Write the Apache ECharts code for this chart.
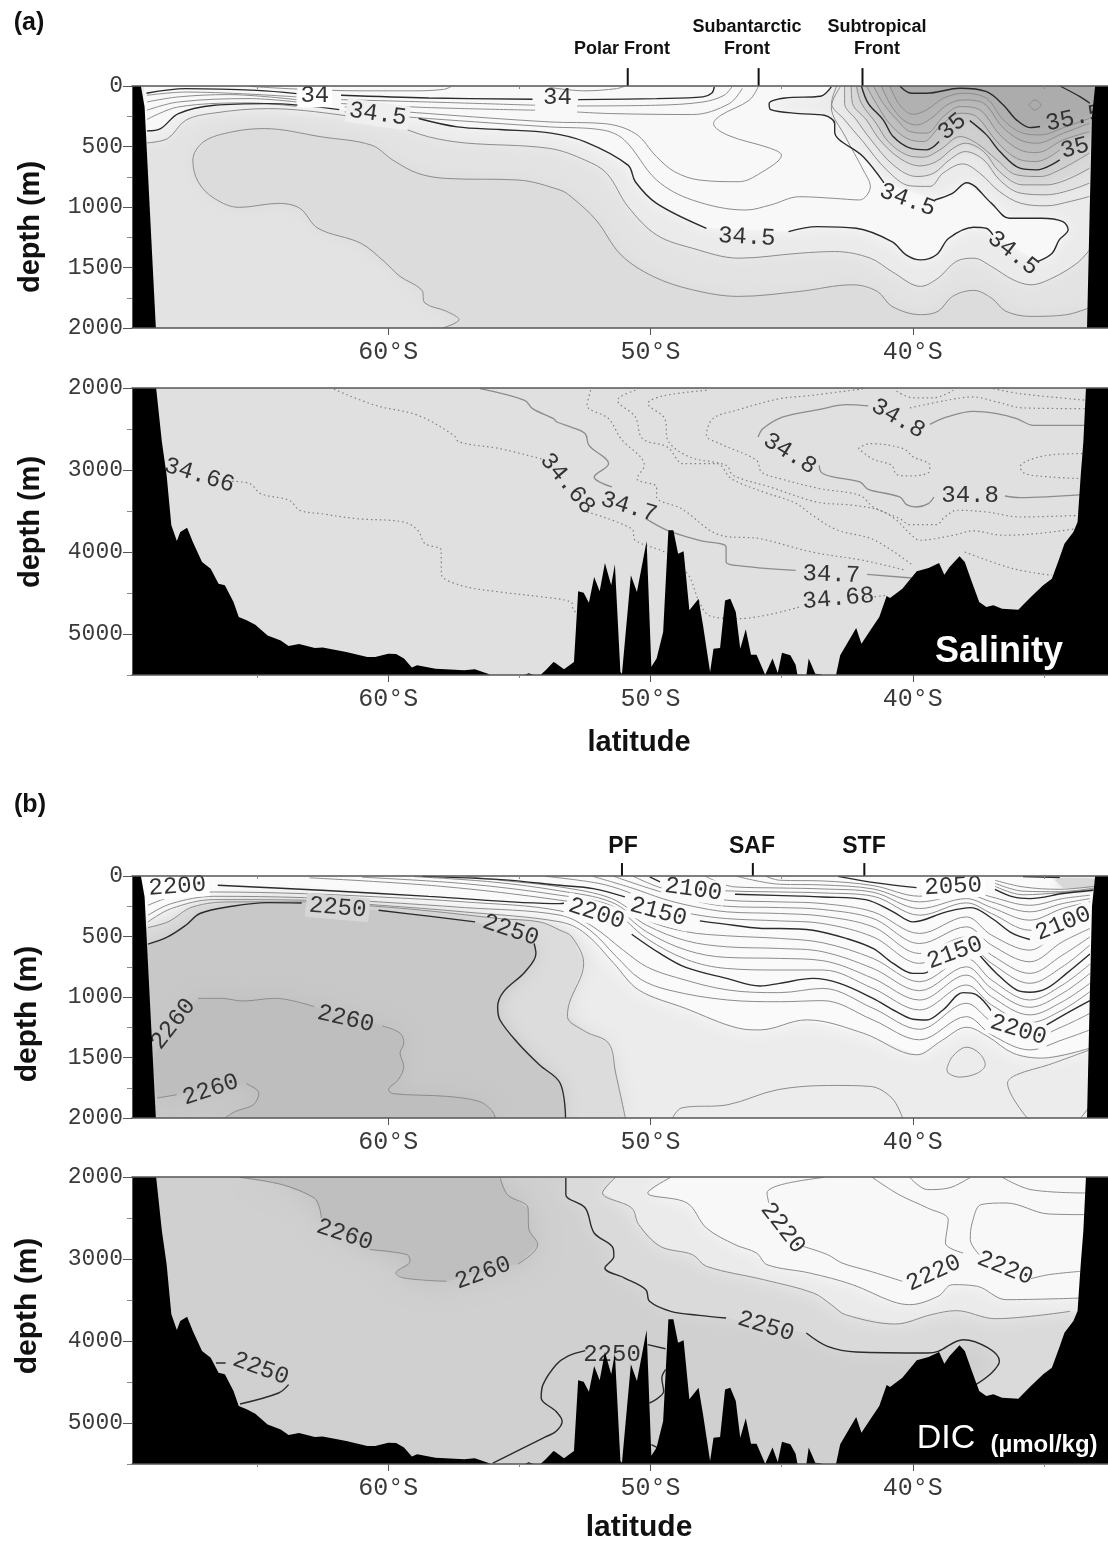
<!DOCTYPE html>
<html><head><meta charset="utf-8">
<style>html,body{margin:0;padding:0;background:#fff}#c{width:1108px;height:1542px}</style>
<script src="https://cdn.jsdelivr.net/npm/echarts@6/dist/echarts.min.js"></script>
</head><body><div id="c"></div>
<script>
// ---------- axis values ----------
const latMin = 32.56, latMax = 69.77;
const latLabels = [60, 50, 40];
const latMinor = [65, 55, 45, 35];
const upperMajor = [0, 500, 1000, 1500, 2000];
const upperMinor = [250, 750, 1250, 1750];
const lowerMajor = [2000, 3000, 4000, 5000];
const lowerMinor = [2500, 3500, 4500, 5500];

// ---------- sea floor (lat S, depth m) ----------
const wallLeft = [[69.77,0],[69.43,0],[69.29,173],[68.86,2000],[69.77,2000]];
const wallRight = [[33.05,0],[33.17,250],[33.26,1050],[33.36,2000],[32.56,2000],[32.56,0]];
const seafloor = [[69.77,2000],[68.85,2000],[68.63,2660],[68.45,3065],[68.27,3675],[68.06,3866],[67.93,3756],[67.67,3703],[67.45,3878],[67.1,4122],[66.77,4203],[66.47,4386],[66.23,4407],[65.9,4610],[65.7,4793],[65.4,4833],[65.07,4886],[64.6,5017],[64.1,5078],[63.8,5146],[63.4,5122],[62.8,5170],[62.5,5166],[61.6,5219],[60.8,5280],[60.5,5280],[60,5240],[59.7,5244],[59.4,5300],[59.1,5410],[58.9,5382],[58.2,5423],[57.1,5443],[56.7,5431],[56.2,5484],[56.1,5500],[54.8,5500],[54.65,5480],[54.45,5500],[54.2,5500],[54,5443],[53.7,5340],[53.64,5350],[53.3,5430],[52.92,5340],[52.76,4480],[52.55,4496],[52.35,4618],[52.15,4305],[51.94,4480],[51.74,4134],[51.5,4407],[51.36,4150],[51.15,5463],[51.09,5484],[50.75,4285],[50.52,4488],[50.15,3866],[49.97,5400],[49.77,5300],[49.52,4975],[49.32,3736],[49.13,3736],[48.95,4020],[48.74,3992],[48.52,4711],[48.17,4569],[48,4894],[47.73,5463],[47.6,5179],[47.35,5171],[47.16,4590],[46.96,4569],[46.75,4732],[46.58,5179],[46.37,4943],[46.17,5252],[45.96,5252],[45.63,5496],[45.35,5300],[45.15,5476],[44.99,5228],[44.67,5260],[44.47,5374],[44.4,5496],[44.06,5500],[43.97,5300],[43.72,5484],[43.52,5490],[43.45,5500],[42.93,5500],[42.77,5260],[42.16,4927],[41.96,5118],[41.62,4955],[41.28,4793],[41,4537],[40.87,4561],[40.4,4447],[39.85,4236],[39.4,4195],[39,4134],[38.8,4277],[38.6,4183],[38.22,4053],[38.02,4122],[37.75,4366],[37.47,4610],[37.2,4671],[36.93,4650],[36.6,4691],[35.98,4703],[35.5,4549],[35.03,4407],[34.7,4325],[34.42,4081],[34.22,3898],[33.88,3756],[33.72,3634],[33.6,3065],[33.5,2659],[33.4,2000],[32.56,2000],[32.56,5500],[69.77,5500]];

// ---------- (a) salinity, 0-2000 m ----------
const sal34a = [[69.22,60],[67.72,22],[65,36],[63.5,63]];
const sal34b = [[61.8,77],[58.46,99],[54.5,110]];
const sal34c = [[52.76,113],[49.77,104],[48,90],[47.66,58],[47.57,8]];
const sal345a = [[69.2,371],[68.68,352],[68,228],[66.63,159],[64.6,146],[61.87,195]];
const sal345b = [[58.84,269],[57.37,338],[55.74,360],[53.85,387],[52.49,461],[50.86,654],[50.58,791],[49.77,970],[47.87,1176]];
const sal345c = [[44.74,1203],[43.65,1162],[42.16,1176],[40.8,1286],[40.26,1395],[39.71,1437],[39.1,1395],[38.63,1258],[37.68,1167],[37.2,1176],[36.95,1230]];
const sal345d = [[35.23,1450],[34.69,1382],[34.42,1272],[34.08,1189],[34.28,1121],[35.1,1093],[36.32,1093],[37,970],[37.95,799],[38.49,887],[39.17,942]];
const sal345e = [[41.1,800],[41.89,585],[42.98,379],[42.98,310],[43.38,242],[44.33,228],[45.42,195],[45.48,146],[44.87,99],[43.52,85],[43.11,8]];
const sal35a = [[41.96,0],[41.7,143],[41.13,280],[40.75,418],[40.1,514],[39.48,528],[39,459]];
const sal35b = [[37.83,286],[37.19,404],[36.68,542],[35.92,679],[35.28,693],[34.4,610]];
const sal355a = [[40.5,0],[40.05,60],[39.48,60],[38.2,19],[37.19,47],[36.55,157],[36.05,280],[35.53,344],[35.15,335]];
const sal355b = [[34.39,0],[33.63,88],[33.25,143]];
const salTopA = [[65.3,3],[63.5,25],[61,40],[59,40],[57.9,28],[57.6,5]];
const salTopB = [[53.85,12],[52.5,40],[51.3,22],[51,3]];
const sal341a = [[69.2,77],[67.7,50],[63.5,90]];
const sal341b = [[61.8,113],[58.5,132],[54.4,159]];
const sal341c = [[52.8,165],[49.8,159],[48,132],[47.2,77],[46.9,8]];
const sal342a = [[69.2,132],[68,90],[66.1,71],[63.5,113]];
const sal342b = [[61.8,145],[58.5,178],[54.4,200]];
const sal342c = [[52.8,215],[51.5,228],[48.4,236],[47,146],[46.5,20]];
const sal343a = [[69.2,200],[68,132],[65.27,104],[63.5,132]];
const sal343b = [[61.66,173],[58.46,228],[53.85,297],[51.8,310],[50.58,393],[49.77,585],[49.08,709],[48.14,777],[46.64,791],[45.83,722],[45.01,571],[45.42,516],[47.05,407],[47.6,310],[47.32,242],[46.24,118],[45.9,8]];
const sal344a = [[69.2,277],[68,173],[65.27,140],[63.5,168]];
const sal344b = [[61.66,214],[58.46,269],[53.85,338],[51.8,365],[50.99,448],[49.77,777],[48.41,942],[46.37,1025],[45.42,983],[44.33,915],[42.98,929],[42.03,942],[41.62,832],[41.89,695],[42.57,420],[43.11,173],[42.77,8]];
const sal346 = [[69.2,470],[68.41,434],[67.72,283],[66.63,223],[64.6,187],[61.73,242],[59.82,324],[58.46,420],[57.1,470],[53.85,516],[52.49,613],[51.67,722],[50.86,997],[49.77,1231],[48.4,1341],[46.64,1423],[44.33,1382],[42.98,1368],[41.62,1423],[40.8,1533],[39.71,1656],[39.04,1588],[38.35,1450],[37.68,1423],[37,1492],[36.18,1601],[35.5,1643],[34.69,1588],[33.74,1464],[33.26,1354]];
const sal347 = [[57.92,2000],[57.3,1931],[57.78,1862],[58.6,1794],[58.73,1684],[59.55,1574],[60.16,1450],[61.05,1299],[62.68,1176],[63.37,1011],[64.18,970],[65.68,1003],[66.63,929],[67.25,791],[67.45,613],[67.04,461],[65.95,379],[64.73,352],[62.55,420],[60.64,489],[59.82,613],[58.87,722],[57.78,764],[55.05,777],[53.45,860],[53.03,915],[52.08,1107],[51.13,1395],[49.9,1574],[48.41,1684],[46.64,1739],[44.33,1698],[42.3,1643],[41.35,1698],[40.8,1821],[39.71,1890],[39.04,1862],[38.49,1739],[37.68,1689],[37,1753],[36.45,1862],[35.5,1904],[34.14,1890],[33.3,1835]];
const salLa = [[42.9,0],[43.1,143],[42.6,280],[41.9,460],[41,693],[40.1,825],[39.35,830],[38.85,720],[38.1,644],[37.45,720],[36.7,872],[35.9,968],[34.9,990],[34,954],[33.27,913]];
const salLb = [[42.6,0],[42.6,143],[42.15,280],[41.64,432],[40.75,652],[39.85,748],[39.2,720],[38.6,610],[38,542],[37.3,610],[36.7,775],[35.9,885],[34.9,899],[33.27,803]];
const salLc = [[42.35,0],[42.3,143],[41.77,280],[41.26,445],[40.5,597],[39.73,660],[39.1,624],[38.46,514],[38,473],[37.3,542],[36.7,707],[35.8,817],[34.9,817],[33.27,680]];
const salLd = [[42.15,0],[41.96,143],[41.4,308],[40.94,459],[40.24,569],[39.6,588],[38.97,528],[38.2,418],[37.57,473],[36.8,610],[36.05,734],[35.15,748],[34.4,693],[33.27,555]];
const salUa = [[41.77,0],[41.4,143],[40.9,308],[40.24,432],[39.6,459],[38.97,335],[38.2,225],[37.57,253],[36.8,459],[36.05,597],[35.28,624],[34.4,528]];
const salUb = [[41.5,0],[41.13,143],[40.6,280],[40.1,377],[39.48,390],[38.84,253],[38.2,170],[37.44,198],[36.68,404],[35.92,528],[35.28,550],[34.26,445],[33.27,377]];
const salUc = [[41.2,0],[40.88,143],[40.37,280],[39.86,322],[39.3,267],[38.7,157],[38.08,115],[37.3,143],[36.6,335],[35.92,445],[35.28,473],[34.26,390],[33.27,308]];
const salUd = [[40.88,0],[40.5,157],[39.99,234],[39.48,198],[38.84,102],[38.08,60],[37.19,102],[36.55,280],[35.8,390],[35.15,404],[34.14,335],[33.27,267]];
const salLoop = [[35.58,157],[35.35,115],[35.12,157],[35.35,199],[35.58,157]];

// ---------- (a) salinity, 2000-5500 m ----------
const deep34p7a = [[56.5,2008],[54.8,2150],[54.5,2252],[53.7,2374],[53.57,2415],[53.03,2476],[52.49,2557],[52.35,2699],[51.6,2923],[52.15,3085],[51.47,3207]];
const deep34p7b = [[50.18,3593],[49.36,3736],[48.14,3858],[47.12,3939],[47.12,4122],[46.5,4171],[44.47,4224]];
const deep34p7c = [[41.75,4272],[40.05,4317]];
const deep34p8a = [[45.9,2597],[45.71,2495],[44.95,2353],[43.55,2260],[42.53,2203],[41.7,2219]];
const deep34p8b = [[39.35,2443],[38.7,2353],[37.7,2284],[36.8,2312],[36.04,2373],[35.4,2455],[33.37,2455]];
const deep34p8c = [[43.57,2943],[43.48,3032],[43.04,3085],[42.02,3146],[41.7,3235],[40.5,3329],[40.24,3422],[39.86,3451],[39.41,3410],[39.2,3329]];
const deep34p8d = [[36.49,3317],[35.91,3337],[33.56,3300]];
const dot1 = [[42.08,2739],[41.64,2678],[40.37,2739],[39.98,2841],[39.35,2943],[39.41,3032],[40.11,3073],[40.62,3056],[40.81,2943],[41.51,2869],[42.08,2739]];
const dot2 = [[33.37,2800],[34.64,2812],[35.6,2882],[35.91,2963],[35.72,3044],[34.77,3085],[33.56,3105]];
const dot3 = [[40.62,2040],[39.98,2121],[39.22,2121],[38.46,2028]];
const dot4 = [[40.11,2243],[38.71,2150],[37.7,2109],[36.8,2170],[35.79,2243],[33.37,2252]];
const dot5 = [[36.93,2008],[35.91,2069],[33.37,2150]];
const dot6 = [[41.9,2010],[44.06,2097],[45.07,2130],[46.73,2272],[47.62,2373],[47.87,2577],[47.36,2678],[45.96,2882],[45.77,3024],[45.07,3105],[43.55,3227],[42.02,3309],[41.51,3451],[40.5,3593],[40.11,3666],[39.1,3666],[38.78,3573],[38.33,3491],[37.19,3512],[35.91,3573],[33.62,3553]];
const dot7 = [[47.87,2028],[49.53,2097],[50.1,2190],[49.46,2373],[49.34,2638],[48.51,2841],[47.11,2943],[46.85,3065],[45.45,3207],[43.67,3390],[42.27,3430],[41.26,3491],[40.62,3613],[40.11,3776],[39.73,3857],[38.46,3796],[37.7,3743],[36.55,3796],[35.28,3776],[33.75,3715]];
const dot8 = [[50.58,2028],[51.26,2150],[50.58,2354],[50.31,2618],[49.36,2720],[48.75,2923],[47.46,2923],[46.92,3106],[45.7,3268],[44.5,3400],[43.79,3560],[42.9,3730],[41.5,3850],[40,4163]];
const dot8b = [[38.02,4000],[36.18,4203],[34.69,4285]];
const dot9 = [[52.28,2028],[52.42,2211],[51.6,2374],[51.13,2618],[50.24,2943],[50.52,3106],[49.77,3207],[49.77,3329],[48.82,3472],[47.32,3797],[45.83,3838],[43.86,4000],[41.89,4102],[40.26,4224]];
const dot34p68a = [[62.07,2016],[60.5,2211],[58.87,2333],[57.5,2577],[57.3,2659],[55.74,2740],[54.1,2870]];
const dot34p68b = [[52.42,3512],[50.72,3716],[50.58,3858],[49.36,4020],[48.55,4285],[48.14,4610],[47.73,4780],[46.64,4813],[44.33,4671]];
const dot34p68c = [[41.8,4560],[41,4528]];
const dot34p66 = [[65.95,3138],[65.27,3167],[64.86,3289],[63.77,3370],[63.37,3492],[62.55,3533],[61.19,3594],[59.41,3634],[58.87,3736],[58.6,3898],[57.98,3980],[57.98,4264],[57.23,4407],[55.74,4488],[54.1,4549],[53.03,4610],[52.96,4691],[52.76,4772]];

// ---------- (b) DIC, 0-2000 m ----------
const stackLats = [45.08,43.43,41.52,39.74,37.96,37,35.54,34.3,33.25];
const dic2060 = [35,41,79,167,118,173,242,187,159];
const dic2070 = [68,74,107,214,151,214,296,228,187];
const dic2080 = [99,107,134,269,187,261,365,269,214];
const dic2090 = [132,140,167,324,222,310,448,338,250];
const dic2110 = [214,228,296,475,338,489,613,434,379];
const dic2120 = [261,277,351,558,420,571,709,544,434];
const dic2130 = [310,332,420,640,503,654,805,654,503];
const dic2140 = [371,393,503,722,563,722,887,750,571];
const dic2160 = [516,552,681,874,681,860,1025,901,728];
const dic2170 = [599,626,764,948,750,929,1085,970,805];
const dic2180 = [681,700,846,1025,819,997,1148,1039,887];
const dic2190 = [777,777,929,1107,901,1066,1212,1107,956];
const dic2210 = [964,929,1093,1267,1052,1203,1341,1245,1135];
const dic2220 = [1039,1030,1190,1354,1162,1313,1437,1354,1272];
const head2060 = [[45.6,3]];
const head2070 = [[46.7,3]];
const head2080 = [[47.9,3],[46.8,90]];
const head2090 = [[49.1,3],[47.5,110],[46.8,125]];
const head2110 = [[50.66,3],[49.64,95],[48.5,150],[47.1,200]];
const head2120 = [[51.4,3],[50,105],[48.63,190],[47.1,250]];
const head2130 = [[52.2,3],[50.7,100],[49.5,190],[48.4,250],[47.1,296]];
const head2140 = [[54,3],[52,60],[50.9,130],[49.5,260],[48.4,315],[47.1,352]];
const head2160 = [[57,5],[55.5,40],[53.46,90],[51.5,185],[50.15,365],[48.63,461],[47.1,494]];
const head2170 = [[59,5],[56,50],[53.46,123],[51.5,215],[50.15,407],[48.63,536],[47.1,585]];
const head2180 = [[61,10],[57,65],[53.46,159],[51.5,245],[50.15,461],[48.63,613],[47.1,673]];
const head2190 = [[63,15],[58,85],[53.46,200],[51.5,285],[50.15,516],[48.63,690],[47.1,764]];
const head2210 = [[69.16,242],[68.27,173],[66.63,132],[63.2,146],[60.37,173],[57.1,214],[53.45,288],[52.19,420],[51.04,613],[50.15,750],[49,840],[47.05,942]];
const head2220 = [[69.16,324],[68.27,228],[66.63,168],[63.2,179],[60.37,214],[57.1,261],[53.45,324],[52.31,448],[51.3,667],[50.4,850],[49.26,945],[47.05,1025]];
const dic2230 = [[69.16,379],[68.27,269],[66.63,195],[63.2,200],[60.37,241],[57.1,297],[53.45,379],[52.49,475],[51.4,722],[50.45,942],[48.68,1093],[46.64,1258],[45.83,1272],[44.06,1189],[41.89,1299],[39.85,1478],[38.9,1360],[37.95,1250],[37.14,1327],[36.18,1464],[35.1,1505],[33.26,1423]];
const dic2240 = [[69.16,426],[68.4,379],[67.45,255],[65.95,214],[63.2,214],[60.5,250],[58.46,288],[55.74,352],[54.24,379],[53.45,448],[53,503],[52.55,722],[53.1,1052],[53.17,1162],[52.49,1285],[51.6,1382],[51.33,1629],[50.96,2000]];
const dic2050a = [[42.85,3],[41.39,57],[39.86,96]];
const dic2050b = [[36.87,110],[36.17,173],[35.54,187],[34.27,145],[33.12,118]];
const dic2050top = [[35.8,5],[34.4,12]];
const dicTop1 = [[36.87,35],[35.8,90],[34.4,110],[33.1,85]];
const dicTop2 = [[36.87,60],[35.8,125],[34.4,130],[33.1,100]];
const dicTop3 = [[36.87,85],[35.8,155],[34.4,138],[33.1,110]];
const dicCornerShade = [[34.6,30],[34.27,100],[33.12,100],[33,20],[34.3,15]];
const dic2100a = [[50.03,8],[49.64,49]];
const dic2100b = [[46.78,151],[44.3,166],[43.43,173],[41.8,195],[40.75,296],[39.99,379],[38.72,296],[37.78,261],[36.98,351],[36.2,475],[35.54,525]];
const dic2150a = [[58.7,3],[55.7,30],[53.45,77],[52.19,104],[50.98,173]];
const dic2150b = [[48.12,371],[46.84,407],[45.57,434],[45.08,434],[43.81,448],[42.54,516],[41.52,599],[40.75,722],[39.99,805],[39.61,805],[39.1,736]];
const dic2150c = [[37.51,640],[36.81,805],[36.05,942],[35.54,961],[34.9,929],[34.14,805],[33.25,645]];
const dic2200a = [[66.5,77],[62.55,118],[58.46,168],[53.45,228],[53.3,225]];
const dic2200b = [[50.72,481],[49.64,640],[48.63,758],[47.1,846],[45.83,909],[45.08,887],[43.81,846],[42.79,887],[41.52,1011],[40.63,1121],[39.99,1184],[39.48,1190],[38.85,1107],[38.08,964],[37.57,983],[36.94,1135]];
const dic2200c = [[34.9,1231],[34.14,1135],[33.25,1030]];
const dic2250a = [[69.16,563],[68.41,503],[67.72,407],[67.18,310],[65.95,250],[64.6,220],[63.3,223]];
const dic2250b = [[60.37,283],[58.46,332],[56.69,379]];
const dic2250c = [[54.44,558],[54.37,640],[54.78,791],[55.6,956],[55.83,1080],[55.74,1190],[55.05,1382],[54.24,1560],[53.45,1711],[53.24,2000]];
const dic2260a = [[67.25,1011],[66.36,1011],[65.55,1033],[64.32,1011],[62.82,1080]];
const dic2260b = [[60.23,1239],[59.55,1299],[59.41,1382],[59.55,1464],[59.41,1574],[59.62,1684],[59.99,1766],[59.82,1799],[57.78,1821],[56.55,1862],[56.08,1931],[55.91,2000]];
const dic2260c = [[68.81,1835],[68.07,1808]];
const dic2260d = [[65.41,1717],[64.93,1794],[65.14,1890],[65.82,1945],[66.23,2000]];
const dicArc = [[49.16,2000],[48.82,1917],[47.05,1890],[45.15,1766],[42.98,1731],[41.62,1739],[40.8,1835],[40.39,2000]];
const dicBlob = [[38.7,1588],[38.49,1492],[37.95,1415],[37.47,1464],[37.24,1560],[37.54,1629],[38.22,1662],[38.65,1629],[38.7,1588]];
const dicRight = [[35.64,2000],[36.39,1711],[36.05,1643],[34.82,1560],[33.26,1437]];
const dicCorner = [[33.6,2000],[33.3,1917]];

// ---------- (b) DIC, 2000-5500 m ----------
const d2250a = [[53.23,2012],[53.23,2215],[52.49,2378],[52.15,2683],[51.43,2866],[51.4,2967],[51.74,3110],[50.99,3232],[50.18,3374],[50.04,3516],[49.23,3638],[48.14,3687],[47.12,3719]];
const d2250b = [[44.06,3902],[43.25,4065],[42.16,4134],[39.44,4146],[39.04,4126],[38.08,3984],[37.13,4085],[36.7,4248],[37,4390],[37.6,4532]];
const d2250c = [[65.65,4768],[64.18,4634],[63.8,4532]];
const d2250d = [[66.57,4268],[66.2,4268]];
const d2250e = [[56.01,5488],[54.1,5183],[53.6,5100],[53.37,4980],[53.6,4860],[54.17,4695],[54.1,4532],[53.6,4290],[53.17,4187],[52.49,4118]];
const d2250f = [[50.11,4045],[49.43,4094]];
const d2250g = [[49.43,4350],[49.57,4451],[49.5,4614],[50.04,4756]];
const d2250h = [[49.97,5264],[49.7,5305]];
const d2260a = [[65.68,2004],[64.05,2093],[62.82,2256],[62.62,2378],[62.55,2500]];
const d2260b = [[60.71,2886],[59.28,2947],[59.17,3028],[59.71,3171],[59.41,3232],[57.78,3272]];
const d2260c = [[55.05,3061],[54.3,2825],[54.65,2622],[54.67,2378],[55.46,2215],[55.73,2012]];
const d2240 = [[51.33,2004],[51.83,2195],[50.72,2378],[50.45,2581],[49.63,2846],[48.4,2947],[47.87,3089],[45.69,3252],[43.79,3415],[43.11,3557],[42.57,3679],[40.66,3793],[39.3,3679],[38.35,3630],[36.86,3728],[34,3638]];
const d2230 = [[49.23,2004],[50.11,2195],[48.61,2317],[47.87,2622],[46.78,2825],[45.96,2927],[45.56,3069],[43.93,3171],[42.3,3313],[40.8,3516],[40.12,3557],[39.04,3455],[38.49,3313],[37.54,3333],[36.45,3496],[33.6,3476]];
const d2220a = [[43.38,2004],[45.01,2093],[45.56,2195],[45.49,2317]];
const d2220b = [[44.2,2845],[43.25,2947],[42.7,3049],[41.62,3150],[40.4,3272]];
const d2220c = [[38.08,2927],[38.76,2805],[38.65,2520],[39.44,2378],[40.53,2215],[41.55,2004]];
const d2210a = [[40.12,2004],[39.44,2154],[38.63,2134],[37.81,2004]];
const d2210b = [[36.59,2004],[35.5,2154],[33.4,2195]];
const d2220d = [[33.4,2459],[34.82,2451],[36.45,2317],[37.4,2337],[37.74,2561],[37.81,2764],[37.47,2947]];
const d2220e = [[35.5,3240],[34.82,3191],[33.6,3150]];

// ---------- contour labels [lat, depth, text, rotation deg, background] ----------
const labelsA = [[62.8,77,'34',0,'#fff'],[53.55,100,'34',0,''],[60.4,233,'34.5',-8,'#efefef'],[46.33,1250,'34.5',-3,''],[40.2,942,'34.5',-20,''],[36.18,1382,'34.5',-38,''],[38.5,335,'35',40,''],[33.85,267,'35.5',12,''],[33.82,514,'35',15,'']];
const labelsB = [[67.2,3065,'34.66',-17,''],[53.17,3167,'34.68',-50,''],[42.84,4569,'34.68',5,''],[50.83,3451,'34.7',-17,''],[43.11,4276,'34.7',-2,''],[40.56,2373,'34.8',-30,''],[44.69,2800,'34.8',-32,''],[37.82,3308,'34.8',0,'']];
const labelsC = [[68.04,85,'2200',4,'#fff'],[61.93,261,'2250',-5,'#d6d6d6'],[55.33,448,'2250',-18,''],[68.2,1222,'2260',52,''],[61.62,1181,'2260',-13,''],[66.77,1766,'2260',18,''],[48.37,112,'2100',-8,'#fafafa'],[49.7,297,'2150',-15,'#fafafa'],[52.06,310,'2200',-18,'#fafafa'],[38.46,85,'2050',3,'#fff'],[34.27,393,'2100',22,'#fafafa'],[38.4,634,'2150',20,'#fafafa'],[35.98,1272,'2200',-17,'#fafafa']];
const labelsD = [[61.66,2703,'2260',-18,''],[56.39,3171,'2260',20,''],[64.86,4337,'2250',-20,''],[45.6,3821,'2250',-17,''],[51.47,4167,'2250',0,''],[44.95,2622,'2220',-52,''],[39.21,3171,'2220',25,''],[36.48,3110,'2220',-22,'']];

// ---------- front markers ----------
const frontsA = [50.87, 45.88, 41.92];
const frontsC = [51.09, 46.1, 41.85];

// ---------- build ----------
const GRAY='#8c8c8c', DARK='#2b2b2b', AXIS='#555';
const MONO='"Liberation Mono",monospace', SANS='"Liberation Sans",Arial,sans-serif';
const rects=[{top:86,height:242,min:0,max:2000,maj:upperMajor,min2:upperMinor,bg:'#e3e3e3'},
             {top:388,height:287,min:2000,max:5500,maj:lowerMajor,min2:lowerMinor,bg:'#e0e0e0'},
             {top:876,height:242,min:0,max:2000,maj:upperMajor,min2:upperMinor,bg:'#ececec'},
             {top:1177,height:287,min:2000,max:5500,maj:lowerMajor,min2:lowerMinor,bg:'#d0d0d0'}];
const grids=[],xAxes=[],yAxes=[],series=[];
rects.forEach((r,i)=>{
  grids.push({left:132,right:0,top:r.top,height:r.height,show:true,backgroundColor:r.bg,borderWidth:0});
  const xb={gridIndex:i,type:'value',inverse:true,min:latMin,max:latMax,splitLine:{show:false},z:10};
  xAxes.push(Object.assign({},xb,{position:'bottom',axisLine:{show:true,onZero:false,lineStyle:{color:AXIS,width:1.5}},
    axisTick:{show:true,length:7,lineStyle:{color:AXIS},customValues:latLabels},
    axisLabel:{show:true,customValues:latLabels,margin:12,color:'#3a3a3a',fontFamily:MONO,fontSize:25,formatter:v=>v+'°S'}}));
  xAxes.push(Object.assign({},xb,{position:'top',axisLine:{show:true,onZero:false,lineStyle:{color:AXIS,width:1.5}},axisTick:{show:false},axisLabel:{show:false}}));
  xAxes.push(Object.assign({},xb,{position:'bottom',axisLine:{show:false},axisTick:{show:true,length:3,lineStyle:{color:'#888'},customValues:latMinor},axisLabel:{show:false}}));
  const yb={gridIndex:i,type:'value',inverse:true,min:r.min,max:r.max,position:'left',splitLine:{show:false},z:10};
  yAxes.push(Object.assign({},yb,{axisLine:{show:true,onZero:false,lineStyle:{color:AXIS}},
    axisTick:{show:true,length:9,lineStyle:{color:AXIS},customValues:r.maj},
    axisLabel:{show:true,customValues:r.maj,margin:9,color:'#3a3a3a',fontFamily:MONO,fontSize:23,formatter:v=>String(v)}}));
  yAxes.push(Object.assign({},yb,{axisLine:{show:false},axisTick:{show:true,length:5,lineStyle:{color:'#888'},customValues:r.min2},axisLabel:{show:false}}));
});
const poly=(p,pts,fill,z,blur)=>series.push({type:'custom',xAxisIndex:p*3,yAxisIndex:p*2,z:z||1,silent:true,clip:true,
  data:[pts[0]],renderItem:(params,api)=>({type:'polygon',shape:{points:pts.map(q=>api.coord(q))},style:{fill,shadowBlur:blur||0,shadowColor:fill}})});
const soft=(p,pts,fill,blur)=>poly(p,pts,fill,1,blur||12);
const lines=(p,segs,color,width,type,z)=>segs.forEach(s=>series.push({type:'line',xAxisIndex:p*3,yAxisIndex:p*2,data:s,smooth:0.35,
  showSymbol:false,silent:true,z:z||2,clip:true,lineStyle:{color,width,type:type||'solid'}}));
const labels=(p,list)=>series.push({type:'custom',xAxisIndex:p*3,yAxisIndex:p*2,z:3,silent:true,
  data:list.map(l=>[l[0],l[1]]),renderItem:(params,api)=>{const l=list[params.dataIndex];const c=api.coord([l[0],l[1]]);
    return {type:'text',x:c[0],y:c[1],rotation:l[3]*Math.PI/180,style:{text:l[2],font:'24px '+MONO,fill:'#333',align:'center',verticalAlign:'middle',backgroundColor:l[4]||'transparent',padding:l[4]?[0,3]:0}};}});
const zipStack=(head,vals)=>head.concat(stackLats.map((a,k)=>[a,vals[k]]));
const closeTop=(pts,a,b)=>pts.concat([[a,0],[b,0]]);

// panel 0
soft(0,sal347.concat([[33.3,2000]]),'#dcdcdc',16);
soft(0,closeTop(sal346,33,69.3),'#ebebeb',14);
soft(0,sal345a.concat(sal345b,sal345c,sal345d,sal345e,[[69.3,0],[69.3,371]]),'#f8f8f8',14);
soft(0,closeTop(salLa,33,42.9),'#e9e9e9',6);
soft(0,closeTop(salLb,33,42.6),'#e1e1e1',6);
soft(0,closeTop(salLc,33,42.35),'#d8d8d8',6);
soft(0,closeTop(salLd,33,42.15),'#cfcfcf',6);
soft(0,closeTop(sal35a.concat(sal35b,[[33.27,490]]),33,41.96),'#c7c7c7',6);
soft(0,closeTop(salUa.concat([[33.27,420]]),33,41.77),'#c0c0c0',6);
soft(0,closeTop(salUb,33,41.5),'#bababa',6);
soft(0,closeTop(salUc,33,41.2),'#b5b5b5',6);
soft(0,closeTop(salUd,33,40.88),'#b1b1b1',6);
soft(0,closeTop(sal355a.concat([[33.25,240]]),33,40.5),'#acacac',6);
lines(0,[salTopA,salTopB,sal341a,sal341b,sal341c,sal342a,sal342b,sal342c,sal343a,sal343b,sal344a,sal344b,sal346,sal347,salLa,salLb,salLc,salLd,salUa,salUb,salUc,salUd,salLoop],GRAY,1);
lines(0,[sal34a,sal34b,sal34c,sal345a,sal345b,sal345c,sal345d,sal345e,sal35a,sal35b,sal355a,sal355b],DARK,1.4);
labels(0,labelsA);
poly(0,wallLeft,'#000',5);poly(0,wallRight,'#000',5);

// panel 1
lines(1,[deep34p7a,deep34p7b,deep34p7c,deep34p8a,deep34p8b,deep34p8c,deep34p8d],GRAY,1.3);
lines(1,[dot1,dot2,dot3,dot4,dot5,dot6,dot7,dot8,dot8b,dot9,dot34p68a,dot34p68b,dot34p68c,dot34p66],'#808080',1.2,[1.5,3]);
labels(1,labelsB);
poly(1,seafloor,'#000',5);

// panel 2
soft(2,closeTop(dic2230.concat([[33,1423]]),33,69.5),'#fafafa',18);
soft(2,dicCornerShade,'#d8d8d8',10);
soft(2,dic2240.concat([[69.5,2000],[69.5,426]]),'#dcdcdc',18);
soft(2,dic2250a.concat(dic2250b,dic2250c,[[69.5,2000],[69.5,563]]),'#c8c8c8',18);
soft(2,dic2260a.concat(dic2260b,[[66.23,2000]],dic2260d.slice().reverse(),dic2260c.slice().reverse(),[[69,1500]]),'#bebebe',24);
const stack=[[head2060,dic2060],[head2070,dic2070],[head2080,dic2080],[head2090,dic2090],[head2110,dic2110],[head2120,dic2120],[head2130,dic2130],[head2140,dic2140],[head2160,dic2160],[head2170,dic2170],[head2180,dic2180],[head2190,dic2190],[head2210,dic2210],[head2220,dic2220]];
lines(2,stack.map(s=>zipStack(s[0],s[1])),GRAY,1);
lines(2,[dic2230,dic2240,dic2260a,dic2260b,dic2260c,dic2260d,dicArc,dicBlob,dicRight,dicCorner,dicTop1,dicTop2,dicTop3],GRAY,1);
lines(2,[dic2050a,dic2050b,dic2050top,dic2100a,dic2100b,dic2150a,dic2150b,dic2150c,dic2200a,dic2200b,dic2200c,dic2250a,dic2250b,dic2250c],DARK,1.4);
labels(2,labelsC);
poly(2,wallLeft,'#000',5);poly(2,wallRight,'#000',5);

// panel 3
soft(3,d2260a.concat(d2260b,d2260c),'#bfbfbf',30);
soft(3,d2250a.concat(d2250b,[[37.3,4700],[33,4700],[33,2000]]),'#dadada',20);
soft(3,d2240.concat([[33,3638],[33,2000]]),'#ebebeb',18);
soft(3,d2230.concat([[33,3476],[33,2000]]),'#f8f8f8',14);
lines(3,[d2260a,d2260b,d2260c,d2240,d2230,d2220a,d2220b,d2220c,d2210a,d2210b,d2220d,d2220e],GRAY,1);
lines(3,[d2250a,d2250b,d2250c,d2250d,d2250e,d2250f,d2250g,d2250h],DARK,1.4);
labels(3,labelsD);
poly(3,seafloor,'#000',5);

// front ticks
frontsA.forEach(a=>series.push({type:'line',xAxisIndex:0,yAxisIndex:0,clip:false,showSymbol:false,silent:true,z:6,data:[[a,0],[a,-148]],lineStyle:{color:'#111',width:2}}));
frontsC.forEach(a=>series.push({type:'line',xAxisIndex:6,yAxisIndex:4,clip:false,showSymbol:false,silent:true,z:6,data:[[a,0],[a,-107]],lineStyle:{color:'#111',width:2}}));

const txt=(text,x,y,font,opt)=>Object.assign({type:'text',x,y,z:20,style:{text,font,fill:'#111',align:'center',verticalAlign:'middle'}},opt||{});
const white=(o)=>{o.style.fill='#fff';return o;};
const graphicEls=[
 txt('(a)',29,23,'bold 25px '+SANS), txt('(b)',30,805,'bold 25px '+SANS),
 txt('depth (m)',31,227,'bold 29px '+SANS,{rotation:Math.PI/2}),
 txt('depth (m)',31,522,'bold 29px '+SANS,{rotation:Math.PI/2}),
 txt('depth (m)',28,1014,'bold 30px '+SANS,{rotation:Math.PI/2}),
 txt('depth (m)',28,1306,'bold 30px '+SANS,{rotation:Math.PI/2}),
 txt('latitude',639,743,'bold 29px '+SANS), txt('latitude',639,1528,'bold 30px '+SANS),
 txt('Polar Front',622,49,'bold 18px '+SANS),
 txt('Subantarctic',747,27,'bold 18px '+SANS), txt('Front',747,49,'bold 18px '+SANS),
 txt('Subtropical',877,27,'bold 18px '+SANS), txt('Front',877,49,'bold 18px '+SANS),
 txt('PF',623,847,'bold 23px '+SANS), txt('SAF',752,847,'bold 23px '+SANS), txt('STF',864,847,'bold 23px '+SANS),
 white(txt('Salinity',999,652,'bold 36px '+SANS)),
 white(txt('DIC',946,1439,'34px '+SANS)),
 white(txt('(µmol/kg)',1044,1445,'bold 24px '+SANS))
];

const chart=echarts.init(document.getElementById('c'),null,{renderer:'canvas'});
chart.setOption({animation:false,backgroundColor:'#fff',grid:grids,xAxis:xAxes,yAxis:yAxes,series,graphic:{elements:graphicEls}});
</script></body></html>
